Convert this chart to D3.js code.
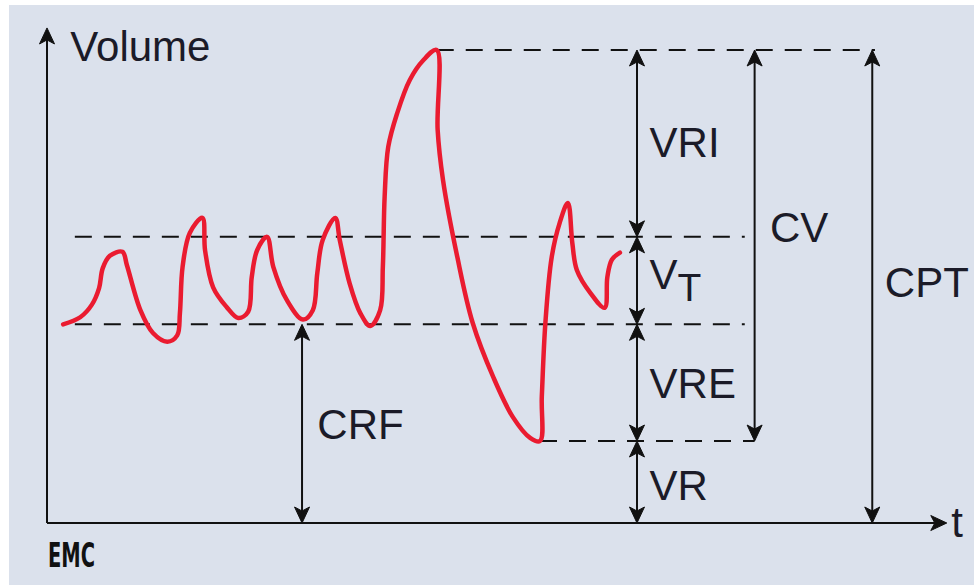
<!DOCTYPE html>
<html>
<head>
<meta charset="utf-8">
<script src="https://cdn.jsdelivr.net/npm/d3@7"></script>
<style>
  html, body { margin: 0; padding: 0; background: #fff; }
  svg { display: block; }
</style>
</head>
<body>
<div id="chart"></div>
<script>
(function() {
  'use strict'

  // Data //
  // red trace: time (arbitrary units) and volume (arbitrary units)
  var timeS = [1.8, 3.7, 5.0, 5.8, 6.2, 7.0, 8.4, 8.9, 10.4, 11.8, 13.4, 14.5, 14.8, 15.1, 15.9, 17.3,
    17.6, 18.5, 20.0, 21.3, 22.4, 22.8, 23.4, 24.5, 25.2, 26.7, 28.5, 29.6, 30.1, 30.7, 32.1,
    32.6, 33.7, 34.9, 36.0, 37.1, 37.4, 37.6, 38.0, 39.0, 40.4, 41.9, 43.4, 43.5, 44.1, 45.7,
    47.4, 49.7, 51.9, 53.8, 54.9, 55.1, 55.5, 56.2, 57.1, 58.0, 58.5, 59.0, 60.5, 62.1, 62.4,
    62.9, 63.8]
  var volume = [25.2, 26.1, 27.7, 29.8, 32.3, 33.9, 34.4, 32.7, 27.0, 24.1, 23.0, 23.8, 26.6, 32.5, 36.8, 38.7,
    34.6, 29.9, 27.4, 26.0, 26.8, 31.2, 34.6, 36.3, 32.5, 28.3, 25.8, 27.0, 31.7, 35.9, 38.7,
    35.9, 30.4, 26.6, 25.0, 27.0, 32.5, 41.4, 47.7, 52.0, 56.2, 58.7, 60.0, 49.9, 43.5, 33.7,
    25.4, 18.5, 13.4, 10.8, 10.4, 16.0, 25.4, 33.7, 38.1, 40.6, 35.5, 32.1, 29.2, 27.3, 31.2,
    33.4, 34.3]

  // reference levels
  var levelNames = ["VR", "CRF", "VT", "CPT"]
  var levelValues = [10.4, 25.2, 36.3, 60]

  // dashed guides: level, start time, end time
  var guideLevel = [60, 36.3, 25.2, 10.4]
  var guideStart = [43.4, 3.1, 3.1, 54.9]
  var guideEnd = [92.2, 77.7, 77.7, 78.8]

  // measurement arrows: time, from, to
  var arrowTime = [65.7, 65.7, 65.7, 65.7, 78.8, 91.9, 28.4]
  var arrowFrom = [60, 36.3, 25.2, 10.4, 60, 60, 25.2]
  var arrowTo = [36.3, 25.2, 10.4, 0, 10.4, 0, 0]

  // labels
  var labelText = ["VRI", "V", "VRE", "VR", "CV", "CPT", "CRF"]
  var labelTime = [67.1, 67.1, 67.1, 67.1, 80.5, 93.3, 30.1]
  var labelVol = [46.4, 29.7, 15.9, 2.9, 35.7, 28.7, 10.6]

  // SVG Setup //
  var width = 974,
    height = 585

  var svg = d3.select("#chart").append("svg")
    .attr("width", width)
    .attr("height", height)

  svg.append("rect")
    .attr("x", 9).attr("y", 5)
    .attr("width", width - 9).attr("height", height - 5)
    .attr("fill", "#dbe1ec")

  var x = d3.scaleLinear().domain([0, 100]).range([47, 945])
  var y = d3.scaleLinear().domain([0, 60]).range([523, 50])

  var ink = "#111",
    font = "'Liberation Sans', Arial, Helvetica, sans-serif"

  // arrowhead at tip (px,py) pointing along unit vector (ux,uy)
  function head(px, py, ux, uy) {
    var L = 16, W = 7.5, N = 12
    var vx = -uy, vy = ux
    return "M" + px + "," + py +
      "L" + (px - ux * L + vx * W) + "," + (py - uy * L + vy * W) +
      "L" + (px - ux * N) + "," + (py - uy * N) +
      "L" + (px - ux * L - vx * W) + "," + (py - uy * L - vy * W) + "Z"
  }

  var heads = svg.append("g")
  function drawHead(px, py, ux, uy) {
    heads.append("path")
      .attr("d", head(px, py, ux, uy))
      .attr("fill", ink)
      .attr("stroke", ink)
      .attr("stroke-width", 1)
      .attr("stroke-linejoin", "round")
  }

  // Axes //
  svg.append("line")
    .attr("x1", x(0)).attr("y1", y(0))
    .attr("x2", x(0)).attr("y2", y(62.8) + 10)
    .attr("stroke", ink).attr("stroke-width", 2)
  drawHead(x(0), y(62.8), 0, -1)
  svg.append("line")
    .attr("x1", x(0)).attr("y1", y(0))
    .attr("x2", x(100.2) - 10).attr("y2", y(0))
    .attr("stroke", ink).attr("stroke-width", 2)
  drawHead(x(100.2), y(0), 1, 0)

  svg.append("text")
    .attr("x", x(2.6)).attr("y", y(58.6))
    .attr("font-family", font).attr("font-size", 42)
    .attr("fill", "#1b1b28")
    .text("Volume")
  svg.append("text")
    .attr("x", x(100.7)).attr("y", y(-1.8))
    .attr("font-family", font).attr("font-size", 42)
    .attr("fill", "#1b1b28")
    .text("t")

  // Dashed guides //
  svg.selectAll(".guide")
    .data(d3.range(guideLevel.length))
    .enter().append("line")
    .attr("class", "guide")
    .attr("x1", function(i) { return x(guideStart[i]) })
    .attr("x2", function(i) { return x(guideEnd[i]) })
    .attr("y1", function(i) { return y(guideLevel[i]) })
    .attr("y2", function(i) { return y(guideLevel[i]) })
    .attr("stroke", ink).attr("stroke-width", 2)
    .attr("stroke-dasharray", "17,12")

  // Measurement arrows //
  svg.selectAll(".meas")
    .data(d3.range(arrowTime.length))
    .enter().append("line")
    .attr("class", "meas")
    .attr("x1", function(i) { return x(arrowTime[i]) })
    .attr("x2", function(i) { return x(arrowTime[i]) })
    .attr("y1", function(i) { return y(arrowFrom[i]) + 8 })
    .attr("y2", function(i) { return y(arrowTo[i]) - 8 })
    .attr("stroke", ink).attr("stroke-width", 2)

  arrowTime.forEach(function(t, i) {
    drawHead(x(t), y(arrowFrom[i]), 0, -1)
    drawHead(x(t), y(arrowTo[i]), 0, 1)
  })

  // Red trace //
  var line = d3.line()
    .x(function(i) { return x(timeS[i]) })
    .y(function(i) { return y(volume[i]) })
    .curve(d3.curveCatmullRom.alpha(0.5))

  svg.append("path")
    .datum(d3.range(timeS.length))
    .attr("d", line)
    .attr("fill", "none")
    .attr("stroke", "#ea1b30")
    .attr("stroke-width", 4.5)
    .attr("stroke-linejoin", "round")
    .attr("stroke-linecap", "round")

  // Labels //
  var labels = svg.selectAll(".lab")
    .data(d3.range(labelText.length))
    .enter().append("text")
    .attr("class", "lab")
    .attr("x", function(i) { return x(labelTime[i]) })
    .attr("y", function(i) { return y(labelVol[i]) })
    .attr("font-family", font).attr("font-size", 42)
    .attr("fill", "#1b1b28")
    .text(function(i) { return labelText[i] })

  labels.filter(function(i) { return labelText[i] === "V" })
    .append("tspan")
    .attr("dy", 12)
    .attr("font-size", 39)
    .text("T")

  // EMC mark
  svg.append("text")
    .attr("x", 48).attr("y", 567)
    .attr("font-family", "'Liberation Sans Narrow', 'DejaVu Sans Condensed', sans-serif")
    .attr("font-weight", "bold")
    .attr("font-size", 33)
    .attr("textLength", 47)
    .attr("lengthAdjust", "spacingAndGlyphs")
    .attr("fill", "#111")
    .text("EMC")
})()
</script>
</body>
</html>
